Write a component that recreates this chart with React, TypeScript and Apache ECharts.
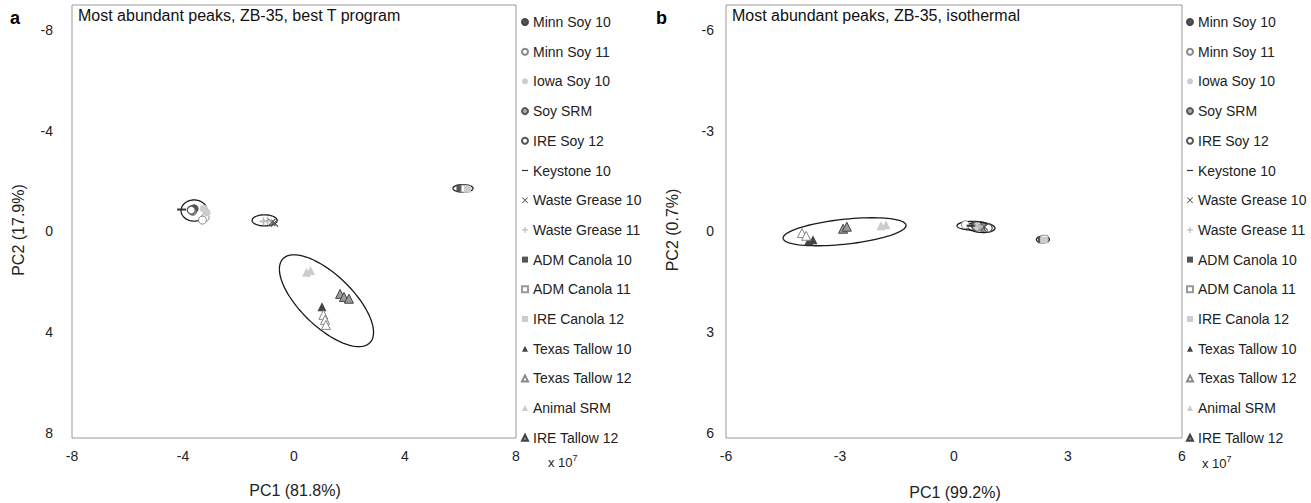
import React, { useEffect, useRef } from "react";
import * as echarts from "echarts";

const FONT = "'Liberation Sans', Arial, sans-serif";

const SERIES_NAMES = [
  "Minn Soy 10", "Minn Soy 11", "Iowa Soy 10", "Soy SRM", "IRE Soy 12", "Keystone 10",
  "Waste Grease 10", "Waste Grease 11", "ADM Canola 10", "ADM Canola 11", "IRE Canola 12",
  "Texas Tallow 10", "Texas Tallow 12", "Animal SRM", "IRE Tallow 12",
];

// ---- Panel a (values x 10^7) ----
const A_X_TICKS = [-8, -4, 0, 4, 8];
const A_Y_TICKS = [-8, -4, 0, 4, 8];
const aMinnSoy10 = [[-3.6, -0.9]];
const aMinnSoy11 = [[-3.2, -0.55], [-3.3, -0.45]];
const aIowaSoy10 = [[-3.25, -0.9], [-3.15, -0.75]];
const aSoySRM = [[-3.65, -0.8]];
const aIRESoy12 = [[-3.7, -0.85]];
const aKeystone10 = [[-4.05, -0.87]];
const aWasteGrease10 = [[-0.8, -0.36], [-0.7, -0.33]];
const aWasteGrease11 = [[-1.1, -0.4], [-0.95, -0.42]];
const aADMCanola10 = [[5.98, -1.72]];
const aADMCanola11 = [[6.15, -1.7]];
const aIRECanola12 = [[6.25, -1.68]];
const aTexasTallow10 = [[1.01, 2.99]];
const aTexasTallow12 = [[1.06, 3.31], [1.12, 3.51], [1.15, 3.71]];
const aAnimalSRM = [[0.45, 1.62], [0.6, 1.55]];
const aIRETallow12 = [[1.66, 2.48], [1.8, 2.6], [1.98, 2.67]];
// ellipses: [centre PC1, centre PC2, semi-axis 1, semi-axis 2, angle deg]
const aEllipses = [
  [-3.6, -0.83, 0.47, 0.42, 0],
  [-1.06, -0.44, 0.45, 0.22, 0],
  [6.09, -1.71, 0.36, 0.15, 0],
  [1.17, 2.75, 2.29, 0.98, 48],
];

// ---- Panel b (values x 10^7) ----
const B_X_TICKS = [-6, -3, 0, 3, 6];
const B_Y_TICKS = [-6, -3, 0, 3, 6];
const bMinnSoy10 = [[0.55, -0.18]];
const bMinnSoy11 = [[0.3, -0.2]];
const bIowaSoy10 = [[0.6, -0.15]];
const bSoySRM = [[0.75, -0.12]];
const bIRESoy12 = [[0.9, -0.1]];
const bKeystone10 = [[0.45, -0.17]];
const bWasteGrease10 = [[0.8, -0.13]];
const bWasteGrease11 = [[0.65, -0.16]];
const bADMCanola10 = [[2.3, 0.25]];
const bADMCanola11 = [[2.38, 0.22]];
const bIRECanola12 = [[2.36, 0.26]];
const bTexasTallow10 = [[-3.82, 0.28], [-3.71, 0.25]];
const bTexasTallow12 = [[-4.0, 0.05], [-3.89, 0.13]];
const bAnimalSRM = [[-1.92, -0.17], [-1.79, -0.2]];
const bIRETallow12 = [[-2.92, -0.08], [-2.82, -0.14]];
const bEllipses = [
  [-2.88, 0.01, 1.63, 0.37, -7],
  [0.49, -0.17, 0.41, 0.13, 0],
  [0.71, -0.12, 0.37, 0.15, 5],
  [2.34, 0.24, 0.17, 0.1, 0],
];

const A_DATA = [aMinnSoy10, aMinnSoy11, aIowaSoy10, aSoySRM, aIRESoy12, aKeystone10, aWasteGrease10,
  aWasteGrease11, aADMCanola10, aADMCanola11, aIRECanola12, aTexasTallow10, aTexasTallow12, aAnimalSRM, aIRETallow12];
const B_DATA = [bMinnSoy10, bMinnSoy11, bIowaSoy10, bSoySRM, bIRESoy12, bKeystone10, bWasteGrease10,
  bWasteGrease11, bADMCanola10, bADMCanola11, bIRECanola12, bTexasTallow10, bTexasTallow12, bAnimalSRM, bIRETallow12];

const DASH = "path://M0,0L10,0L10,2L0,2Z";
const CROSS = "path://M1,0L5,4L9,0L10,1L6,5L10,9L9,10L5,6L1,10L0,9L4,5L0,1Z";
const PLUS = "path://M4,0H6V4H10V6H6V10H4V6H0V4H4Z";

const STYLES: any[] = [
  { symbol: "circle", size: 8, color: "#555", border: "#444", bw: 1 },
  { symbol: "circle", size: 8, color: "#fff", border: "#888", bw: 1 },
  { symbol: "circle", size: 8, color: "#ccc", border: "#ccc", bw: 0 },
  { symbol: "circle", size: 8, color: "#aaa", border: "#555", bw: 1 },
  { symbol: "circle", size: 8, color: "#fff", border: "#555", bw: 1.3 },
  { symbol: DASH, size: [9, 2], color: "#333", border: "#333", bw: 0 },
  { symbol: CROSS, size: 8, color: "#555", border: "#555", bw: 0 },
  { symbol: PLUS, size: 8, color: "#bbb", border: "#bbb", bw: 0 },
  { symbol: "rect", size: 7, color: "#555", border: "#555", bw: 0 },
  { symbol: "rect", size: 7, color: "#fff", border: "#999", bw: 1 },
  { symbol: "rect", size: 7, color: "#ccc", border: "#ccc", bw: 0 },
  { symbol: "triangle", size: 9, color: "#444", border: "#444", bw: 0 },
  { symbol: "triangle", size: 9, color: "#fff", border: "#888", bw: 1 },
  { symbol: "triangle", size: 9, color: "#ccc", border: "#ccc", bw: 0 },
  { symbol: "triangle", size: 9, color: "#999", border: "#444", bw: 1 },
];

function ellipseSeries(data: number[][], idx: number) {
  return {
    type: "custom",
    name: "ellipse" + idx,
    xAxisIndex: idx,
    yAxisIndex: idx,
    z: 1,
    silent: true,
    data,
    encode: { x: 0, y: 1 },
    renderItem: (_p: any, api: any) => {
      const cx = api.value(0), cy = api.value(1), rx = api.value(2), ry = api.value(3);
      const ang = (api.value(4) * Math.PI) / 180;
      const pts: number[][] = [];
      for (let i = 0; i < 90; i++) {
        const t = (i / 90) * Math.PI * 2;
        const dx = rx * Math.cos(t), dy = ry * Math.sin(t);
        pts.push(api.coord([cx + dx * Math.cos(ang) - dy * Math.sin(ang), cy + dx * Math.sin(ang) + dy * Math.cos(ang)]));
      }
      return { type: "polygon", shape: { points: pts }, style: { fill: "none", stroke: "#1a1a1a", lineWidth: 1.3 } };
    },
  };
}

function scatterSeries(datas: number[][][], idx: number) {
  return datas.map((d, i) => ({
    type: "scatter",
    name: SERIES_NAMES[i],
    xAxisIndex: idx,
    yAxisIndex: idx,
    z: 3,
    symbol: STYLES[i].symbol,
    symbolSize: STYLES[i].size,
    itemStyle: { color: STYLES[i].color, borderColor: STYLES[i].border, borderWidth: STYLES[i].bw, opacity: 1 },
    data: d,
  }));
}

const labelStyle = { color: "#222", fontSize: 14, fontFamily: FONT };

function legend(left: number) {
  return {
    orient: "vertical",
    left,
    top: 14,
    padding: 0,
    itemWidth: 6,
    itemHeight: 6,
    itemGap: 13.7,
    selectedMode: false,
    symbolKeepAspect: true,
    textStyle: { color: "#222", fontSize: 14, fontFamily: FONT, lineHeight: 16 },
    data: SERIES_NAMES,
  };
}

export default function App() {
  const ref = useRef<HTMLDivElement>(null);
  useEffect(() => {
    const chart = echarts.init(ref.current!, null, { renderer: "svg" });
    const option: any = {
      animation: false,
      backgroundColor: "#fff",
      grid: [
        { left: 72, top: 5, width: 444, height: 433, show: true, borderColor: "#999", borderWidth: 1 },
        { left: 726, top: 5, width: 456, height: 433, show: true, borderColor: "#999", borderWidth: 1 },
      ],
      xAxis: [
        {
          gridIndex: 0, type: "value", min: A_X_TICKS[0], max: A_X_TICKS[A_X_TICKS.length - 1], interval: 4,
          axisLine: { show: false }, axisTick: { show: false }, splitLine: { show: false },
          axisLabel: { ...labelStyle, margin: 11 },
        },
        {
          gridIndex: 1, type: "value", min: B_X_TICKS[0], max: B_X_TICKS[B_X_TICKS.length - 1], interval: 3,
          axisLine: { show: false }, axisTick: { show: false }, splitLine: { show: false },
          axisLabel: { ...labelStyle, margin: 11 },
        },
      ],
      yAxis: [
        {
          gridIndex: 0, type: "value", inverse: true, min: -8.99, max: 8.2,
          axisLine: { show: false }, axisTick: { show: false }, splitLine: { show: false },
          axisLabel: { ...labelStyle, margin: 19, customValues: A_Y_TICKS },
        },
        {
          gridIndex: 1, type: "value", inverse: true, min: -6.74, max: 6.15,
          axisLine: { show: false }, axisTick: { show: false }, splitLine: { show: false },
          axisLabel: { ...labelStyle, margin: 12, customValues: B_Y_TICKS },
        },
      ],
      legend: [legend(521), legend(1186)],
      graphic: [
        { type: "text", left: 10, top: 9, style: { text: "a", font: `bold 18px ${FONT}`, fill: "#000" } },
        { type: "text", left: 656, top: 9, style: { text: "b", font: `bold 18px ${FONT}`, fill: "#000" } },
        { type: "text", left: 78, top: 7, style: { text: "Most abundant peaks, ZB-35, best T program", font: `16px ${FONT}`, fill: "#111" } },
        { type: "text", left: 732, top: 7, style: { text: "Most abundant peaks, ZB-35, isothermal", font: `16px ${FONT}`, fill: "#111" } },
        { type: "text", x: 18, y: 230, rotation: Math.PI / 2, style: { text: "PC2 (17.9%)", font: `16px ${FONT}`, fill: "#222", align: "center", verticalAlign: "middle" } },
        { type: "text", x: 672, y: 230, rotation: Math.PI / 2, style: { text: "PC2 (0.7%)", font: `16px ${FONT}`, fill: "#222", align: "center", verticalAlign: "middle" } },
        { type: "text", x: 295, y: 490, style: { text: "PC1 (81.8%)", font: `16px ${FONT}`, fill: "#222", align: "center", verticalAlign: "middle" } },
        { type: "text", x: 955, y: 492, style: { text: "PC1 (99.2%)", font: `16px ${FONT}`, fill: "#222", align: "center", verticalAlign: "middle" } },
        {
          type: "text", x: 548, y: 462,
          style: { text: "x 10{s|7}", font: `13px ${FONT}`, fill: "#222", verticalAlign: "middle", rich: { s: { fontSize: 9, fontFamily: FONT, verticalAlign: "top", padding: [0, 0, 8, 0], fill: "#222" } } },
        },
        {
          type: "text", x: 1202, y: 463,
          style: { text: "x 10{s|7}", font: `13px ${FONT}`, fill: "#222", verticalAlign: "middle", rich: { s: { fontSize: 9, fontFamily: FONT, verticalAlign: "top", padding: [0, 0, 8, 0], fill: "#222" } } },
        },
      ],
      series: [
        ellipseSeries(aEllipses, 0),
        ellipseSeries(bEllipses, 1),
        ...scatterSeries(A_DATA, 0),
        ...scatterSeries(B_DATA, 1),
      ],
    };
    chart.setOption(option);
    return () => chart.dispose();
  }, []);
  return <div ref={ref} style={{ position: "fixed", left: 0, top: 0, width: 1311, height: 503 }} />;
}
